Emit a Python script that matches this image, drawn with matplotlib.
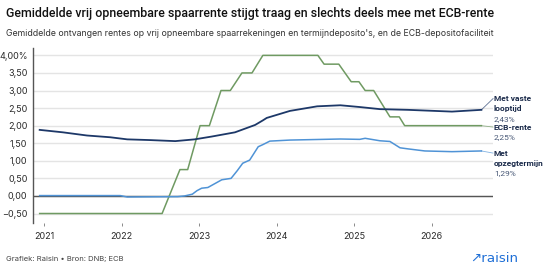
import numpy as np
import matplotlib
matplotlib.use("Agg")
import matplotlib.pyplot as plt

plt.rcParams['font.family'] = ['Inter', 'DejaVu Sans']

# data (decimal years, percent)
ecb_x = [2020.94, 2022.52, 2022.75, 2022.85, 2023.01, 2023.13, 2023.28, 2023.40,
         2023.55, 2023.68, 2023.82, 2024.53, 2024.61, 2024.80, 2024.96, 2025.06,
         2025.14, 2025.25, 2025.46, 2025.58, 2025.65, 2026.64]
ecb_y = [-0.50, -0.50, 0.75, 0.75, 2.00, 2.00, 3.00, 3.00,
         3.50, 3.50, 4.00, 4.00, 3.75, 3.75, 3.25, 3.25,
         3.00, 3.00, 2.25, 2.25, 2.00, 2.00]

vast_x = [2020.94, 2021.24, 2021.55, 2021.85, 2022.07, 2022.36, 2022.69, 2022.94,
          2023.16, 2023.46, 2023.72, 2023.82, 2023.87, 2024.17, 2024.52, 2024.82,
          2025.07, 2025.33, 2025.69, 2026.26, 2026.64]
vast_y = [1.88, 1.81, 1.72, 1.67, 1.61, 1.59, 1.56, 1.61,
          1.69, 1.81, 2.02, 2.15, 2.22, 2.42, 2.55, 2.58,
          2.53, 2.47, 2.45, 2.40, 2.45]

opzeg_x = [2020.94, 2021.98, 2022.07, 2022.72, 2022.81, 2022.91, 2022.97, 2023.03,
           2023.11, 2023.20, 2023.29, 2023.41, 2023.49, 2023.56, 2023.65, 2023.76,
           2023.82, 2023.91, 2024.17, 2024.82, 2025.07, 2025.14, 2025.33, 2025.46,
           2025.59, 2025.69, 2025.91, 2026.26, 2026.64]
opzeg_y = [0.01, 0.01, -0.03, -0.02, 0.00, 0.05, 0.15, 0.22,
           0.24, 0.35, 0.46, 0.50, 0.72, 0.93, 1.02, 1.40,
           1.46, 1.56, 1.59, 1.62, 1.61, 1.64, 1.57, 1.55,
           1.37, 1.34, 1.28, 1.26, 1.28]

years = [2021, 2022, 2023, 2024, 2025, 2026]
yticks = [-0.5, 0.0, 0.5, 1.0, 1.5, 2.0, 2.5, 3.0, 3.5, 4.0]
ytick_labels = ["\u22120,50", "0,00", "0,50", "1,00", "1,50", "2,00",
                "2,50", "3,00", "3,50", "4,00%"]

navy = "#1d3868"
light = "#4f93d6"
green = "#6f9a62"
text_col = "#2b2b2b"

fig = plt.figure(figsize=(5.5, 2.69), dpi=100)
ax = fig.add_axes([0.06, 0.171, 0.8364, 0.6506])

ax.plot(ecb_x, ecb_y, color=green, lw=1.1, zorder=3)
ax.plot(opzeg_x, opzeg_y, color=light, lw=1.1, zorder=4)
ax.plot(vast_x, vast_y, color=navy, lw=1.3, zorder=5)

ax.axhline(0, color="#555555", lw=1.0, zorder=2)
ax.set_xlim(2020.854, 2026.79)
ax.set_ylim(-0.77, 4.21)
ax.set_yticks(yticks)
ax.set_yticklabels(ytick_labels)
ax.set_xticks(years)
ax.set_xticklabels([str(y) for y in years])
ax.yaxis.grid(True, color="#e4e4e4", lw=1.0, zorder=0)
ax.tick_params(axis="y", length=0, pad=4, labelsize=6.5, labelcolor=text_col)
ax.tick_params(axis="x", length=2.5, width=0.6, color="#777777", pad=4,
               labelsize=6.5, labelcolor=text_col)
for s in ["top", "right", "bottom"]:
    ax.spines[s].set_visible(False)
ax.spines["left"].set_color("#555555")
ax.spines["left"].set_linewidth(1.0)

# end labels with connectors
lx = 2026.80
def end_label(xe, ye, ty, col, name_lines, value):
    ax.plot([xe, lx - 0.01], [ye, ty], color=col, lw=0.6, alpha=0.7,
            clip_on=False, zorder=3)
    yy = ty
    for ln in name_lines:
        ax.text(lx, yy, ln, fontsize=6.0, fontweight="bold", color="#1a2a4a",
                va="center", ha="left", family=["Roboto", "DejaVu Sans"])
        yy -= 0.29
    ax.text(lx, yy, value, fontsize=6.0, color="#4a5a78", va="center", ha="left",
            family=["Roboto", "DejaVu Sans"])

end_label(vast_x[-1], vast_y[-1], 2.77, navy, ["Met vaste", "looptijd"], "2,43%")
end_label(ecb_x[-1], ecb_y[-1], 1.96, green, ["ECB-rente"], "2,25%")
end_label(opzeg_x[-1], opzeg_y[-1], 1.22, light, ["Met", "opzegtermijn"], "1,29%")

fig.text(6 / 550, 1 - 14 / 269,
         "Gemiddelde vrij opneembare spaarrente stijgt traag en slechts deels mee met ECB-rente",
         fontsize=8.95, fontweight="medium", color="#111111", va="center", ha="left",
         family=["Roboto", "DejaVu Sans"])
fig.text(6 / 550, 1 - 34 / 269,
         "Gemiddelde ontvangen rentes op vrij opneembare spaarrekeningen en termijndeposito's, en de ECB-depositofaciliteit",
         fontsize=6.3, color="#333333", va="center", ha="left")
fig.text(6 / 550, 1 - 259 / 269, "Grafiek: Raisin \u2022 Bron: DNB; ECB",
         fontsize=5.5, color="#444444", va="center", ha="left")
fig.text(518 / 550, 1 - 258 / 269, "\u2197raisin", fontsize=9.6, fontweight="medium",
         color="#1f6fd6", va="center", ha="right", family=["DejaVu Sans"])

fig.savefig("out.png", dpi=100)
